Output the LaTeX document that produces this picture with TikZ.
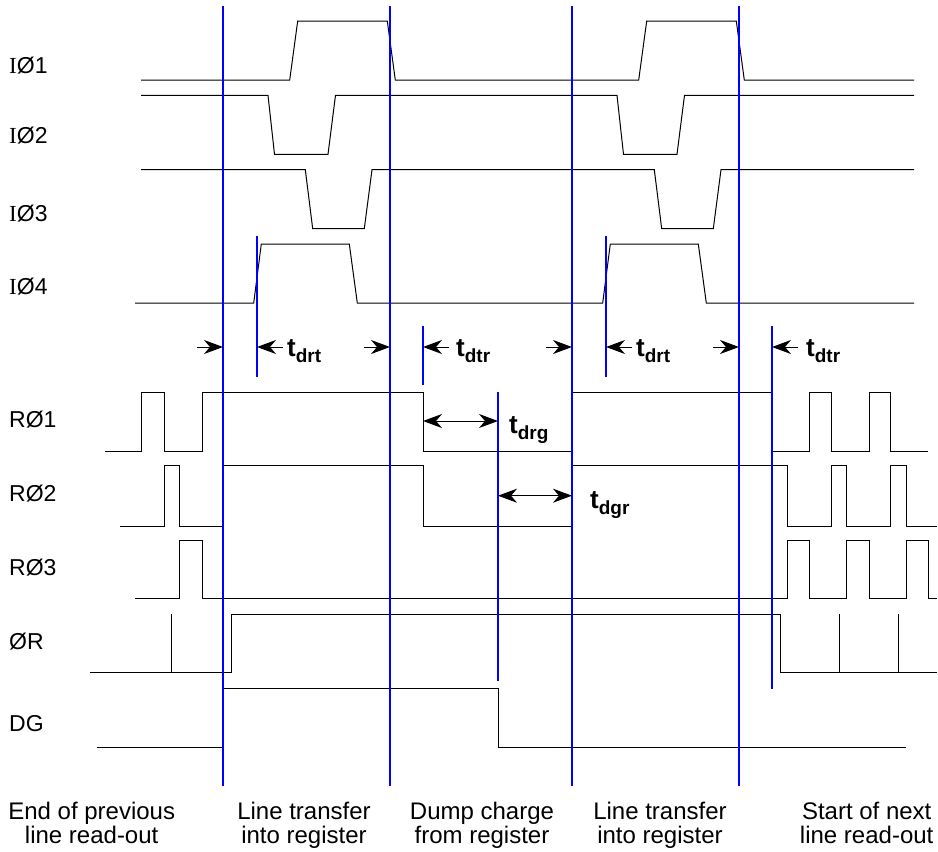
\documentclass[tikz,border=0pt]{standalone}
\usepackage{fontspec}
\setmainfont{Liberation Sans}
\newfontfamily\serifI{Liberation Serif}
\usetikzlibrary{arrows.meta}

\newcommand\tsub[1]{t\raisebox{-6pt}{\fontsize{19}{20}\selectfont #1}}

\tikzset{
  wave/.style={line width=1pt},
  marker/.style={draw=blue,line width=2pt},
  gap/.style={->,line width=1pt},
  span/.style={<->,line width=1pt},
  sig/.style={anchor=base west,inner sep=0pt,font=\fontsize{23}{24}\selectfont},
  tlbl/.style={anchor=base west,inner sep=0pt,font=\bfseries\fontsize{26}{26}\selectfont},
  phase/.style={anchor=north,align=center,inner sep=0pt,font=\fontsize{24}{24.3}\selectfont}
}

\begin{document}
\begin{tikzpicture}[x=1pt,y=-1pt,>={Stealth[length=19pt,width=14pt,inset=6pt]}]
\useasboundingbox (0,0) rectangle (938,852);

% signal names
\foreach \y/\t [count=\i] in {73.3/{\serifI I}Ø1,143/{\serifI I}Ø2,221/{\serifI I}Ø3,294.7/{\serifI I}Ø4,
  427/RØ1,501/RØ2,575/RØ3,649.5/ØR,731.7/DG}
  \node[sig] (sig\i) at (9,\y) {\t};

% image area clocks
\draw[wave] (141,80) \foreach \s in {0,349}
  {-- ({289.7+\s},80) -- ({297.7+\s},21) -- ({387.3+\s},21) -- ({395.3+\s},80)} -- (914,80);
\draw[wave] (141,95.3) \foreach \s in {0,349}
  {-- ({268+\s},95.3) -- ({274.5+\s},154.3) -- ({328+\s},154.3) -- ({335.5+\s},95.3)} -- (914,95.3);
\draw[wave] (141,169.7) \foreach \s in {0,349}
  {-- ({305.3+\s},169.7) -- ({312.7+\s},228.7) -- ({364.3+\s},228.7) -- ({372+\s},169.7)} -- (914,169.7);
\draw[wave] (135,303) \foreach \s in {0,349}
  {-- ({253.7+\s},303) -- ({261.3+\s},244) -- ({349.3+\s},244) -- ({357.3+\s},303)} -- (914,303);

% register clocks
\draw[wave] (105,451.7) -| (141.7,392.3) -| (164.3,451.7) -| (202.3,392.3) -| (423,451.7)
  -| (572,392.3) -| (772,451.7) -| (809,392.3) -| (831.7,451.7) -| (869.7,392.3)
  -| (890.7,451.7) -- (928.3,451.7);
\draw[wave] (120,526) -| (164.3,465.7) -| (179.3,526) -| (223,465.7) -| (423,526)
  -| (572,465.7) -| (787.7,526) -| (831.7,465.7) -| (846.7,526) -| (890.7,465.7)
  -| (906,526) -- (937,526);
\draw[wave] (135,598.3) -| (179.3,540) -| (202.3,598.3) -| (787.7,540) -| (809,598.3)
  -| (846.7,540) -| (869.7,598.3) -| (906,540) -| (928.3,598.3) -- (937,598.3);

% reset and dump gate
\draw[wave] (90,672.7) -| (231,614) -| (780,672.7) -- (936.7,672.7);
\foreach \x in {171.7,839.3,898.3} \draw[wave] (\x,672.7) -- (\x,614);
\draw[wave] (96.7,747) -| (223,688.3) -| (498,747) -- (906,747);

% timing markers
\foreach \x [count=\i] in {223,390,572,739} {
  \draw[marker] (\x,6) -- (\x,785.7);
  \coordinate (e\i) at (\x,347);
}
\foreach \x/\ya/\yb [count=\i] in {257/236/377,423/325.7/385,606/236/377,772/325.7/689} {
  \draw[marker] (\x,\ya) -- (\x,\yb);
  \coordinate (s\i) at (\x,347);
}
\draw[marker] (498,392) -- (498,681);
\foreach \i in {1,...,4} {
  \draw[gap] ([xshift=-26pt]e\i) -- (e\i);
  \draw[gap] ([xshift=26pt]s\i) -- (s\i);
}
\coordinate (r1) at (423,421);
\coordinate (r2) at (498,421);
\coordinate (r3) at (498,495.7);
\coordinate (r4) at (572,495.7);
\draw[span] (r1) -- (r2);
\draw[span] (r3) -- (r4);

\node[tlbl] (drt1) at (287,356) {\tsub{drt}};
\node[tlbl] (dtr1) at (456,356) {\tsub{dtr}};
\node[tlbl] (drt2) at (636,356) {\tsub{drt}};
\node[tlbl] (dtr2) at (806,356) {\tsub{dtr}};
\node[tlbl] (drg) at (509,433) {\tsub{drg}};
\node[tlbl] (dgr) at (590,508) {\tsub{dgr}};

% phases
\node[phase] (prev) at (91.7,802) {End of previous\\line read-out};
\node[phase] (lt1) at (304,802) {Line transfer\\into register};
\node[phase] (dump) at (482,802) {Dump charge\\from register};
\node[phase] (lt2) at (660,802) {Line transfer\\into register};
\node[phase] (next) at (866.7,802) {Start of next\\line read-out};
\end{tikzpicture}
\end{document}
